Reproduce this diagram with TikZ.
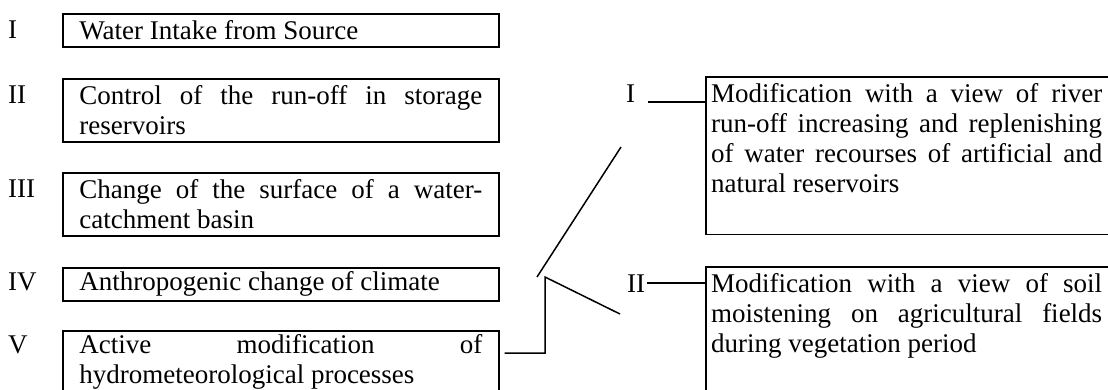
\documentclass[tikz,border=0pt]{standalone}
\usepackage{fontspec}
\setmainfont{Liberation Serif}
\usetikzlibrary{calc}
\begin{document}
\begin{tikzpicture}[x=1pt,y=-1pt,
  every node/.style={font=\fontsize{27}{30}\selectfont},
  lbox/.style={draw, line width=1.6pt, anchor=north west, text width=403pt,
    minimum width=436pt, inner xsep=0pt, inner ysep=0pt, align=justify},
  rbox/.style={anchor=north west, inner xsep=5pt, inner ysep=6pt},
  frame/.style={line width=1.6pt},
  num/.style={anchor=base west, inner sep=0pt},
  link/.style={line width=1.5pt}]
\useasboundingbox (0,0) rectangle (1108,389);

% left column
\node[lbox, minimum height=33pt] (bI)   at (62,13)  {Water Intake from Source};
\node[lbox, minimum height=63pt] (bII)  at (62,78)  {Control of the run-off in storage\linebreak reservoirs};
\node[lbox, minimum height=63pt] (bIII) at (62,172) {Change of the surface of a water-\linebreak catchment basin};
\node[lbox, minimum height=33pt] (bIV)  at (62,267) {Anthropogenic change of climate};
\node[lbox, minimum height=63pt] (bV)   at (62,330) {Active modification of\linebreak hydrometeorological processes};

\node[num] (nI)   at (8,38)  {I};
\node[num] (nII)  at (8,103) {II};
\node[num] (nIII) at (8,197) {III};
\node[num] (nIV)  at (8,290) {IV};
\node[num] (nV)   at (8,353) {V};

% right column (boxes run past the right edge of the picture)
\coordinate (edge) at (1112,0);
\node[rbox] (rI) at (706,77) {\parbox[c][145pt][t]{396pt}{\rightskip=5pt Modification with a view of river\linebreak run-off increasing and replenishing\linebreak of water recourses of artificial and\linebreak natural reservoirs}};
\node[rbox] (rII) at (706,267) {\parbox[c][145pt][t]{396pt}{\rightskip=5pt Modification with a view of soil\linebreak moistening on agricultural fields\linebreak during vegetation period}};
\draw[frame] (rI.south west -| edge) -- (rI.south west) -- (rI.north west) -- (rI.north west -| edge);
\draw[frame] (rII.south west -| edge) -- (rII.south west) -- (rII.north west) -- (rII.north west -| edge);

\node[num] (lRI)  at (626,102) {I};
\node[num] (lRII) at (627,292) {II};

\draw[link] ([xshift=13pt]lRI.base east) -- (lRI.base east -| rI.west);
\draw[link] ([xshift=2pt]lRII.east) -- (lRII.east -| rII.west);

% switch
\coordinate (pivot)   at (545,277);
\coordinate (tipII)   at (620,314);
\coordinate (armlow)  at (537,277);
\coordinate (armhigh) at (621,147);
\draw[link] ($(bV.north east)+(5,23)$) -| (pivot) -- (tipII);
\draw[link] (armlow) -- (armhigh);
\end{tikzpicture}
\end{document}
